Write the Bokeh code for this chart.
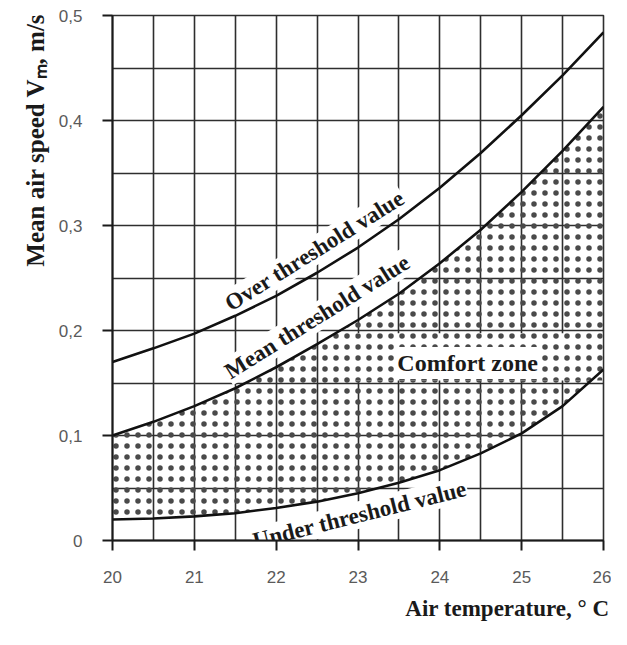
import numpy as np
from bokeh.plotting import figure
from bokeh.models import FixedTicker, CustomJSTickFormatter, Title
from bokeh.core.properties import value
from bokeh.embed import file_html
from bokeh.resources import INLINE

# ---- data ----
temp = [20, 20.5, 21, 21.5, 22, 22.5, 23, 23.5, 24, 24.5, 25, 25.5, 26]
over_threshold = [0.170, 0.183, 0.197, 0.214, 0.233, 0.255, 0.279, 0.306, 0.336, 0.369, 0.405, 0.443, 0.484]
mean_threshold = [0.100, 0.113, 0.128, 0.145, 0.165, 0.187, 0.210, 0.235, 0.264, 0.296, 0.332, 0.371, 0.413]
under_threshold = [0.020, 0.021, 0.023, 0.026, 0.031, 0.037, 0.045, 0.055, 0.067, 0.083, 0.102, 0.128, 0.163]

x_ticks = [20, 21, 22, 23, 24, 25, 26]
x_tick_labels = ["20", "21", "22", "23", "24", "25", "26"]
y_ticks = [0.0, 0.1, 0.2, 0.3, 0.4, 0.5]
y_tick_labels = ["0", "0,1", "0,2", "0,3", "0,4", "0,5"]

curve_labels = ["Over threshold value", "Mean threshold value", "Under threshold value"]
curve_label_x = [22.47, 22.50, 23.02]
curve_label_y = [0.276, 0.213, 0.0245]
curve_label_angle = [32, 32, 14]

zone_label = "Comfort zone"
zone_label_x = 24.34
zone_label_y = 0.169

x_title = "Air temperature, \u00b0 C"
y_title = "Mean air speed V\u2098, m/s"

SERIF = "Liberation Serif"
TICKFONT = "Liberation Sans Narrow, Liberation Sans, Arial"
INK = "#1a1a1a"
GRID = "#2e2e2e"

HATCH = dict(hatch_pattern="dot", hatch_scale=11, hatch_weight=0.5, hatch_color="#4a4a4a")

p = figure(width=611, height=629, x_range=(20, 26), y_range=(0, 0.5),
           output_backend="svg", toolbar_location=None,
           min_border_left=112, min_border_right=8, min_border_top=15, min_border_bottom=87)
p.background_fill_color = "white"
p.border_fill_color = "white"
p.outline_line_color = GRID
p.outline_line_width = 1.6

# grids
p.xgrid.ticker = FixedTicker(ticks=list(np.arange(20, 26.01, 0.5)))
p.ygrid.ticker = FixedTicker(ticks=list(np.round(np.arange(0, 0.501, 0.05), 3)))
for g in (p.xgrid, p.ygrid):
    g.grid_line_color = GRID
    g.grid_line_width = 1.6
    g.grid_line_alpha = 1.0

# axes
fmt_code = """
let b = 0; for (let i = 0; i < t.length; i++) { if (Math.abs(t[i]-tick) < Math.abs(t[b]-tick)) b = i; } return l[b];"""
p.xaxis.ticker = FixedTicker(ticks=x_ticks)
p.yaxis.ticker = FixedTicker(ticks=y_ticks)
p.xaxis.formatter = CustomJSTickFormatter(args=dict(t=x_ticks, l=x_tick_labels), code=fmt_code)
p.yaxis.formatter = CustomJSTickFormatter(args=dict(t=y_ticks, l=y_tick_labels), code=fmt_code)
for ax in (p.xaxis, p.yaxis):
    ax.axis_line_color = INK
    ax.axis_line_width = 2
    ax.major_tick_line_color = INK
    ax.major_tick_line_width = 2
    ax.major_tick_out = 10
    ax.major_tick_in = 0
    ax.minor_tick_line_color = None
    ax.major_label_text_font = TICKFONT
    ax.major_label_text_font_size = "17px"
    ax.major_label_text_color = "#5a5a5a"
p.yaxis.major_label_standoff = 20
p.xaxis.major_label_standoff = 20

# comfort zone stipple
p.varea(x=temp, y1=under_threshold, y2=mean_threshold, fill_alpha=0, **HATCH)
# band around the comfort-zone label (grid interrupted there)
p.quad(left=[22.97], right=[25.985], bottom=[0.1525], top=[0.1975], fill_color="white",
       line_color=None, **HATCH)

# curve labels
p.text(x=curve_label_x, y=curve_label_y, text=curve_labels, angle=curve_label_angle,
       angle_units="deg", text_font=value(SERIF), text_font_style="bold",
       text_font_size="23px", text_color=INK, text_align="center", text_baseline="middle",
       background_fill_color="white", padding=1)
p.text(x=[zone_label_x], y=[zone_label_y], text=[zone_label],
       text_font=value(SERIF), text_font_style="bold", text_font_size="24px",
       text_color=INK, text_align="center", text_baseline="middle",
       background_fill_color="white", padding=3)

# curves
for ys in (over_threshold, mean_threshold, under_threshold):
    p.line(temp, ys, line_color="#111111", line_width=2.6)

# axis titles
p.add_layout(Title(text=x_title, align="right", offset=-6, standoff=17,
                   text_font=SERIF, text_font_style="bold", text_font_size="23px",
                   text_color=INK), "below")
p.add_layout(Title(text=y_title, align="right", offset=-2, standoff=13,
                   text_font=SERIF, text_font_style="bold", text_font_size="25px",
                   text_color=INK), "left")

open("out.html", "w").write(file_html(p, INLINE))
